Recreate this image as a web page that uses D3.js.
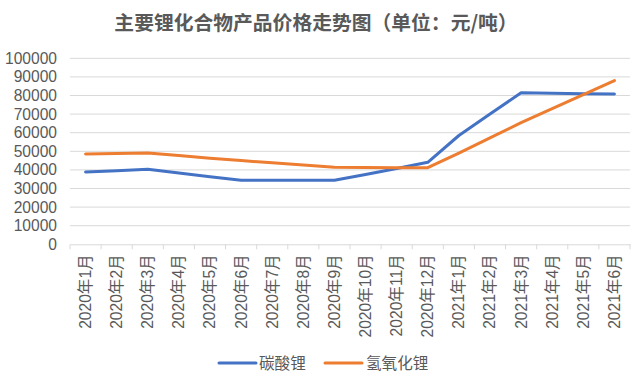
<!DOCTYPE html>
<html><head><meta charset="utf-8">
<script src="https://cdn.jsdelivr.net/npm/d3@7"></script>
<style>body{margin:0;background:#fff}svg{display:block}</style>
</head><body><div id="c"></div>
<script>
const categories = ["2020年1月","2020年2月","2020年3月","2020年4月","2020年5月","2020年6月","2020年7月","2020年8月","2020年9月","2020年10月","2020年11月","2020年12月","2021年1月","2021年2月","2021年3月","2021年4月","2021年5月","2021年6月"];
const lithiumCarbonate = [38900,39600,40300,38300,36300,34400,34400,34400,34400,37500,40800,44100,58500,70000,81500,81200,81000,80800];
const lithiumHydroxide = [48500,48800,49100,47700,46300,45000,43800,42600,41400,41300,41200,41200,49000,57200,65400,73000,80500,88000];
const yTicks = [0,10000,20000,30000,40000,50000,60000,70000,80000,90000,100000];
const seriesNames = ["碳酸锂","氢氧化锂"];
const colors = ["#4472C4","#ED7D31"];

const W=640,H=378, mLeft=70, mRight=630, mTop=58.3, mBottom=244.3;
const font = "'Liberation Sans', Arial, 'Noto Sans CJK SC', sans-serif";
const svg = d3.select("#c").append("svg").attr("width",W).attr("height",H).style("font-family",font);

svg.append("text").attr("x",316).attr("y",30).attr("text-anchor","middle")
  .attr("font-size",19.8).attr("font-weight","bold").attr("fill","#595959")
  .attr("font-family","'Noto Sans CJK SC', sans-serif")
  .text("主要锂化合物产品价格走势图（单位：元/吨）");

const x = d3.scaleBand().domain(categories).range([mLeft,mRight]).padding(0);
const y = d3.scaleLinear().domain([0,100000]).range([mBottom,mTop]);

svg.append("g").selectAll("line").data(yTicks.filter(d=>d>0)).join("line")
  .attr("x1",mLeft).attr("x2",mRight).attr("y1",d=>y(d)).attr("y2",d=>y(d))
  .attr("stroke","#d9d9d9").attr("stroke-width",1);

const ya = svg.append("g").attr("transform",`translate(${mLeft},0)`)
  .call(d3.axisLeft(y).tickValues(yTicks).tickSize(0).tickPadding(13).tickFormat(d3.format("d")));
ya.select(".domain").remove();
ya.selectAll("text").attr("font-size",15.6).attr("fill","#595959").attr("font-family",font);

const xa = svg.append("g").attr("transform",`translate(0,${mBottom})`)
  .call(d3.axisBottom(x).tickSize(0).tickPadding(0));
xa.select(".domain").attr("stroke","#d9d9d9");
xa.selectAll("text").attr("font-size",15.6).attr("fill","#595959")
  .attr("text-anchor","end").attr("dy","0.35em")
  .attr("transform","translate(0,10) rotate(-90)").attr("x",0).attr("y",0)
  .attr("font-family","'Liberation Sans', 'Noto Sans CJK SC', sans-serif");
const bounds = categories.map(c=>x(c)).concat([mRight]);
svg.append("g").selectAll("line").data(bounds).join("line")
  .attr("x1",d=>d).attr("x2",d=>d).attr("y1",mBottom).attr("y2",mBottom+5)
  .attr("stroke","#d9d9d9");

const line = d3.line().x((d,i)=>x(categories[i])+x.bandwidth()/2).y(d=>y(d));
[lithiumCarbonate,lithiumHydroxide].forEach((s,i)=>{
  svg.append("path").datum(s).attr("d",line).attr("fill","none")
    .attr("stroke",colors[i]).attr("stroke-width",3).attr("stroke-linecap","round").attr("stroke-linejoin","round");
});

const lg = [{x:219,tx:259},{x:325,tx:366}];
seriesNames.forEach((n,i)=>{
  svg.append("line").attr("x1",lg[i].x).attr("x2",lg[i].x+37).attr("y1",363).attr("y2",363)
    .attr("stroke",colors[i]).attr("stroke-width",3).attr("stroke-linecap","round");
  svg.append("text").attr("x",lg[i].tx).attr("y",369).attr("font-size",15.6).attr("fill","#595959")
    .attr("font-family","'Noto Sans CJK SC', sans-serif").text(n);
});
</script></body></html>
